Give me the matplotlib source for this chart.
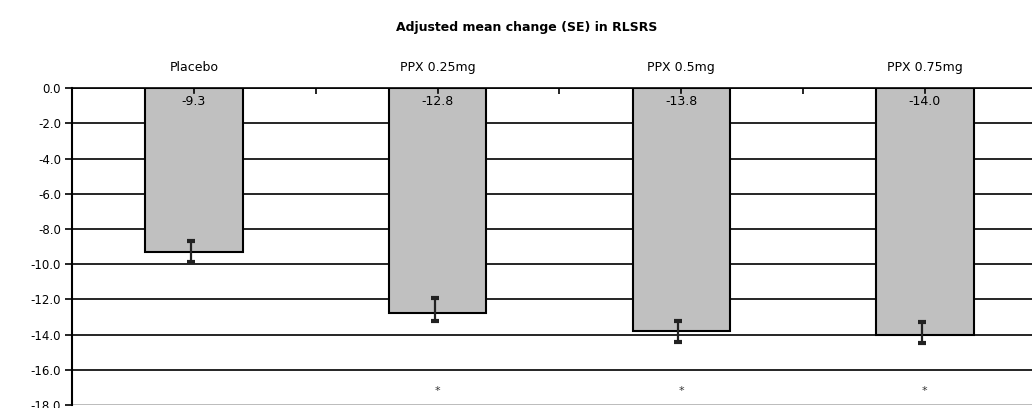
import matplotlib.pyplot as plt
import numpy as np

# data
groups = ['Placebo', 'PPX 0.25mg', 'PPX 0.5mg', 'PPX 0.75mg']
means = [-9.3, -12.8, -13.8, -14.0]
err_top = [-8.7, -11.9, -13.2, -13.3]
err_bot = [-9.9, -13.2, -14.4, -14.5]
signif = [False, True, True, True]
yticks = [0, -2, -4, -6, -8, -10, -12, -14, -16, -18]

plt.rcParams['font.family'] = ['DejaVu Sans']

fig = plt.figure(figsize=(10.32, 4.08), dpi=100)
ax = fig.add_axes([72 / 1032, 3 / 408, 974.8 / 1032, 316.8 / 408])

x = np.arange(len(groups))
means = np.array(means)

# grid lines first
for v in yticks:
    c = '#b0b0b0' if v == -18 else 'black'
    ax.axhline(v, color=c, lw=1.2, zorder=1)

ax.bar(x, means, width=0.40, color='#c0c0c0', edgecolor='black', linewidth=1.5, zorder=2)

lo = means - np.array(err_bot)
hi = np.array(err_top) - means
ax.errorbar(x - 0.012, means, yerr=[lo, hi], fmt='none', ecolor='#222222',
            elinewidth=1.6, capsize=3, capthick=3, zorder=3)

for i, m in enumerate(means):
    ax.text(x[i], -0.75, '%.1f' % m, ha='center', va='center', fontsize=9, zorder=4)
    ax.text(x[i], 1.16, groups[i], ha='center', va='center', fontsize=9, clip_on=False)
    if signif[i]:
        ax.text(x[i], -17.2, '*', ha='center', va='center', fontsize=8, color='#333333')

# small tick marks at the category centres, drawn over the bars
for i in x:
    ax.plot([i, i], [0, -0.25], color='black', lw=1.2, zorder=4)

ax.set_xlim(-0.5, 3.5)
ax.set_ylim(-18, 0)
ax.set_yticks(yticks)
ax.set_yticklabels(['%.1f' % v for v in yticks], fontsize=8.5)
ax.tick_params(axis='y', length=5, width=1.2, pad=3)

# x ticks on the top line, pointing down, between categories
ax.xaxis.set_ticks_position('top')
ax.set_xticks([0.5, 1.5, 2.5])
ax.set_xticklabels([])
ax.tick_params(axis='x', direction='in', length=4, width=1.2)

for s in ['right', 'bottom']:
    ax.spines[s].set_visible(False)
ax.spines['left'].set_linewidth(1.5)
ax.spines['top'].set_linewidth(1.2)

fig.text(0.51, 1 - 27 / 408, 'Adjusted mean change (SE) in RLSRS', ha='center',
         va='center', fontsize=9, fontweight='bold')

plt.savefig('out.png', dpi=100)
